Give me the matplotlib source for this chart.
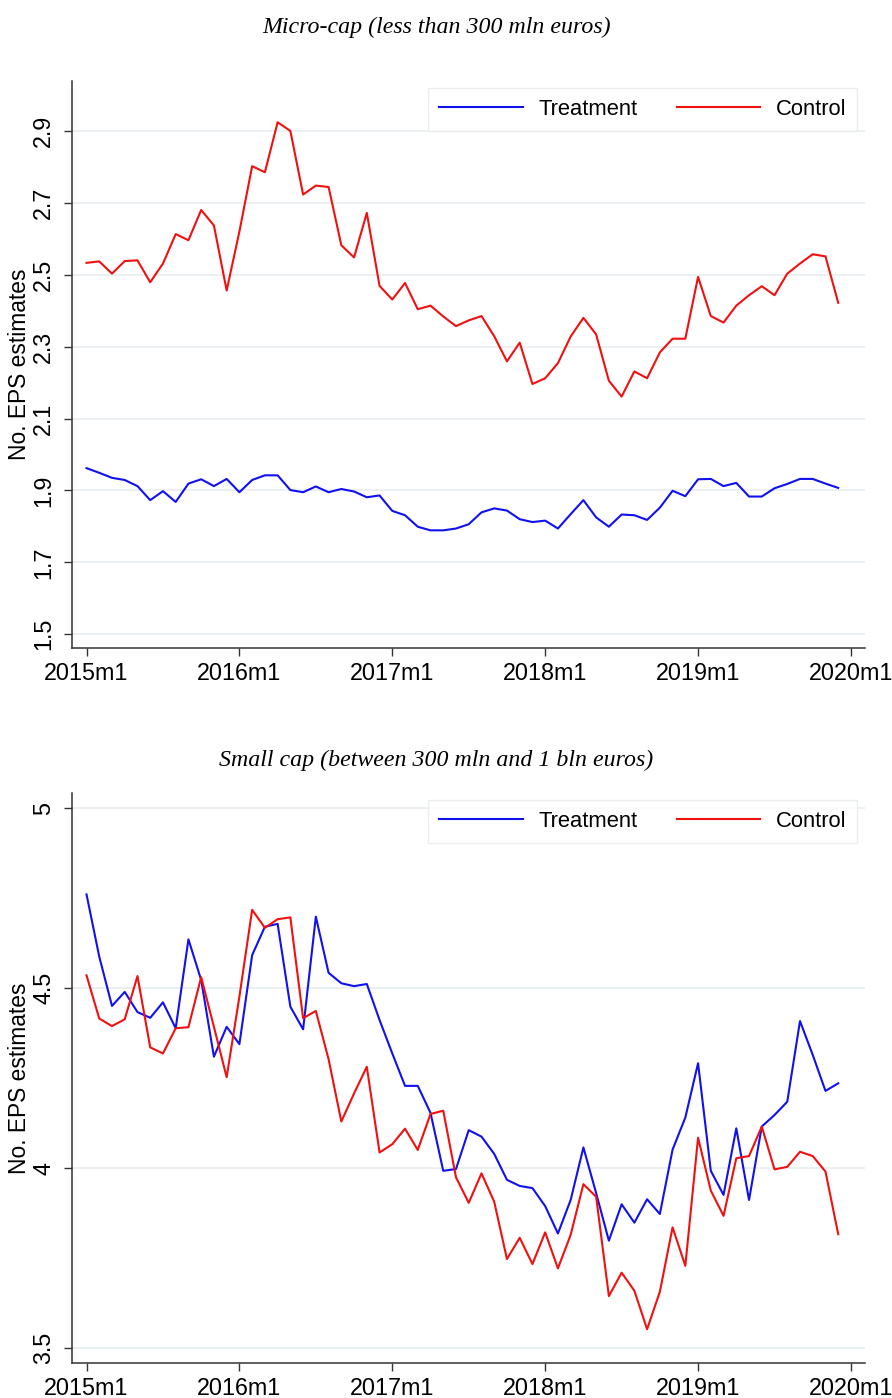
import matplotlib
matplotlib.use("Agg")
import matplotlib.pyplot as plt

# months since 2015m1
months = list(range(60))
tick_pos = [0, 12, 24, 36, 48, 60]
tick_lab = ['2015m1', '2016m1', '2017m1', '2018m1', '2019m1', '2020m1']

# Micro-cap panel
micro_treat = [1.962, 1.949, 1.935, 1.929, 1.912, 1.873, 1.898, 1.868, 1.919, 1.931,
               1.912, 1.932, 1.895, 1.929, 1.942, 1.942, 1.901, 1.895, 1.911, 1.895,
               1.904, 1.897, 1.881, 1.886, 1.843, 1.831, 1.799, 1.789, 1.789, 1.794,
               1.806, 1.839, 1.850, 1.844, 1.820, 1.812, 1.816, 1.794, 1.834, 1.873,
               1.825, 1.799, 1.833, 1.831, 1.818, 1.852, 1.899, 1.884, 1.931, 1.932,
               1.912, 1.921, 1.883, 1.883, 1.906, 1.918, 1.932, 1.932, 1.919, 1.907]
micro_ctrl = [2.533, 2.537, 2.503, 2.538, 2.540, 2.479, 2.531, 2.613, 2.596, 2.680,
              2.637, 2.456, 2.620, 2.802, 2.785, 2.924, 2.900, 2.723, 2.748, 2.744,
              2.582, 2.548, 2.672, 2.469, 2.431, 2.477, 2.404, 2.414, 2.384, 2.357,
              2.373, 2.385, 2.329, 2.259, 2.311, 2.196, 2.212, 2.254, 2.328, 2.380,
              2.334, 2.205, 2.161, 2.231, 2.212, 2.284, 2.322, 2.322, 2.494, 2.385,
              2.367, 2.414, 2.443, 2.468, 2.443, 2.503, 2.531, 2.557, 2.551, 2.422]

# Small cap panel
small_treat = [4.761, 4.588, 4.451, 4.490, 4.434, 4.418, 4.461, 4.389, 4.636, 4.523,
               4.310, 4.393, 4.345, 4.592, 4.671, 4.679, 4.449, 4.386, 4.699, 4.543,
               4.514, 4.506, 4.512, 4.412, 4.319, 4.229, 4.229, 4.154, 3.993, 3.998,
               4.106, 4.088, 4.040, 3.968, 3.951, 3.945, 3.895, 3.819, 3.912, 4.058,
               3.931, 3.799, 3.900, 3.849, 3.914, 3.873, 4.052, 4.141, 4.292, 3.993,
               3.926, 4.111, 3.912, 4.116, 4.148, 4.185, 4.409, 4.315, 4.215, 4.236]
small_ctrl = [4.536, 4.416, 4.395, 4.414, 4.534, 4.336, 4.319, 4.389, 4.392, 4.531,
              4.393, 4.253, 4.477, 4.718, 4.668, 4.692, 4.697, 4.417, 4.437, 4.303,
              4.130, 4.208, 4.282, 4.044, 4.067, 4.110, 4.051, 4.151, 4.160, 3.975,
              3.904, 3.986, 3.907, 3.748, 3.807, 3.734, 3.822, 3.722, 3.815, 3.956,
              3.921, 3.645, 3.710, 3.660, 3.553, 3.657, 3.836, 3.729, 4.085, 3.938,
              3.868, 4.028, 4.034, 4.116, 3.997, 4.004, 4.046, 4.034, 3.991, 3.817]

panels = [
    ("Micro-cap (less than 300 mln euros)", micro_treat, micro_ctrl,
     [1.5, 1.7, 1.9, 2.1, 2.3, 2.5, 2.7, 2.9], ['1.5', '1.7', '1.9', '2.1', '2.3', '2.5', '2.7', '2.9'],
     (1.461, 3.039)),
    ("Small cap (between 300 mln and 1 bln euros)", small_treat, small_ctrl,
     [3.5, 4.0, 4.5, 5.0], ['3.5', '4', '4.5', '5'],
     (3.46, 5.0425)),
]

plt.rcParams['font.family'] = ['Liberation Sans', 'DejaVu Sans']

fig = plt.figure(figsize=(8.92, 13.98), dpi=100)
axes_rects = [[0.0807, 0.5363, 0.889, 0.4058], [0.0807, 0.02525, 0.889, 0.4075]]
title_y = [1 - 27 / 1398, 1 - 760 / 1398]

for k, (title, treat, ctrl, yt, ytl, ylim) in enumerate(panels):
    ax = fig.add_axes(axes_rects[k])
    ax.plot(months, treat, color='#1010f0', lw=1.5, label='Treatment')
    ax.plot(months, ctrl, color='#f01010', lw=1.5, label='Control')

    ax.set_xlim(-1.14, 61.1)
    ax.set_ylim(*ylim)
    ax.set_xticks(tick_pos)
    ax.set_xticklabels(tick_lab, fontsize=16.8)
    ax.set_yticks(yt)
    ax.set_yticklabels(ytl, fontsize=16.8, rotation=90, va='center')
    ax.tick_params(axis='both', length=6, width=1, color='#333333')
    ax.tick_params(axis='x', pad=4)
    ax.tick_params(axis='y', pad=6)

    for s in ['top', 'right']:
        ax.spines[s].set_visible(False)
    for s in ['left', 'bottom']:
        ax.spines[s].set_color('#333333')
        ax.spines[s].set_linewidth(1.1)

    ax.grid(axis='y', color='#e8eef0', lw=1.2)
    ax.set_axisbelow(True)

    leg = ax.legend(loc='upper right', bbox_to_anchor=(0.99, 0.988), ncol=2,
                    fontsize=15.8, frameon=True, fancybox=False,
                    handlelength=3.8, handletextpad=0.7, columnspacing=1.8,
                    borderpad=0.5, borderaxespad=0)
    leg.get_frame().set_edgecolor('#e6eaea')
    leg.get_frame().set_linewidth(1.0)

    pos = ax.get_position()
    fig.text(20 / 892, pos.y0 + pos.height / 2, 'No. EPS estimates', rotation=90,
             ha='center', va='center', fontsize=16.4)
    fig.text(0.489, title_y[k], title, ha='center', va='center', fontsize=17.2,
             style='italic', family=['Liberation Serif', 'DejaVu Serif'])

fig.savefig('out.png', dpi=100)
